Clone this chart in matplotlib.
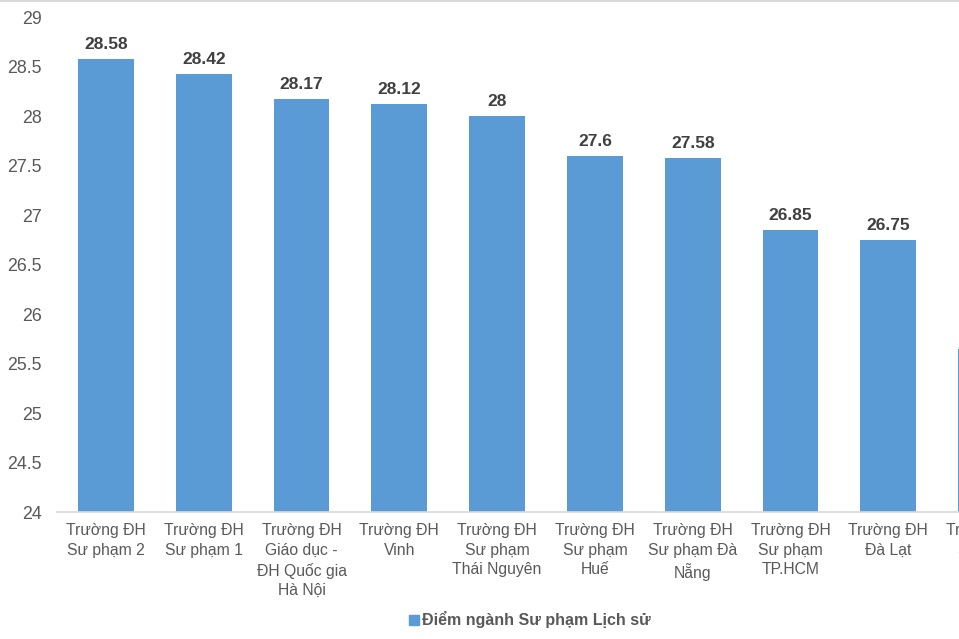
import numpy as np
import matplotlib.pyplot as plt
from matplotlib.lines import Line2D

plt.rcParams['font.family'] = ['Liberation Sans', 'DejaVu Sans']

# data
schools = ["Trường ĐH\nSư phạm 2", "Trường ĐH\nSư phạm 1",
           "Trường ĐH\nGiáo dục -\nĐH Quốc gia\nHà Nội", "Trường ĐH\nVinh",
           "Trường ĐH\nSư phạm\nThái Nguyên", "Trường ĐH\nSư phạm\nHuế",
           "Trường ĐH\nSư phạm Đà\nNẵng", "Trường ĐH\nSư phạm\nTP.HCM",
           "Trường ĐH\nĐà Lạt", "Trường ĐH\nSài Gòn"]
scores = [28.58, 28.42, 28.17, 28.12, 28.0, 27.6, 27.58, 26.85, 26.75, 25.65]
value_labels = ["28.58", "28.42", "28.17", "28.12", "28", "27.6", "27.58",
                "26.85", "26.75", "25.65"]
yticks = [24, 24.5, 25, 25.5, 26, 26.5, 27, 27.5, 28, 28.5, 29]
series_name = "Điểm ngành Sư phạm Lịch sử"

W, H = 959, 639
fig = plt.figure(figsize=(W / 100, H / 100), dpi=100)
step = 97.8
# axes run past the right edge, the original picture is cropped there
ax = fig.add_axes([57 / W, 1 - 512 / H, len(schools) * step / W, 495 / H])

blue = '#5b9bd5'
x = np.arange(len(schools))
bars = ax.bar(x, scores, width=0.57, color=blue, zorder=2)
for xi, v, lab in zip(x, scores, value_labels):
    ax.text(xi, v + 0.07, lab, ha='center', va='bottom', fontsize=12.5,
            fontweight='bold', color='#404040')

ax.set_xlim(-0.5, len(schools) - 0.5)
ax.set_ylim(24, 29)
ax.set_yticks(yticks)
ax.set_yticklabels([f"{t:g}" for t in yticks])
ax.set_xticks(x)
ax.set_xticklabels(schools, linespacing=1.38)
ax.tick_params(axis='y', length=0, pad=11, labelsize=12.8, labelcolor='#595959')
ax.tick_params(axis='x', length=0, pad=8, labelsize=11.3, labelcolor='#595959')
for s in ['top', 'right', 'left']:
    ax.spines[s].set_visible(False)
ax.spines['bottom'].set_color('#d9d9d9')
ax.spines['bottom'].set_linewidth(1.2)

handle = Line2D([], [], marker='s', color=blue, linestyle='none', markersize=7)
fig.legend([handle], [series_name], loc='center', bbox_to_anchor=(529 / W, 1 - 620 / H),
           frameon=False, handletextpad=0.1, handlelength=0.8,
           prop={'weight': 'bold', 'size': 11.5})
for t in fig.legends[0].get_texts():
    t.set_color('#595959')

# thin border line at the top of the picture
fig.add_artist(Line2D([0, 1], [1 - 1 / H, 1 - 1 / H], color='#d9d9d9', lw=1.5,
                      transform=fig.transFigure))

fig.savefig('out.png', dpi=100)
